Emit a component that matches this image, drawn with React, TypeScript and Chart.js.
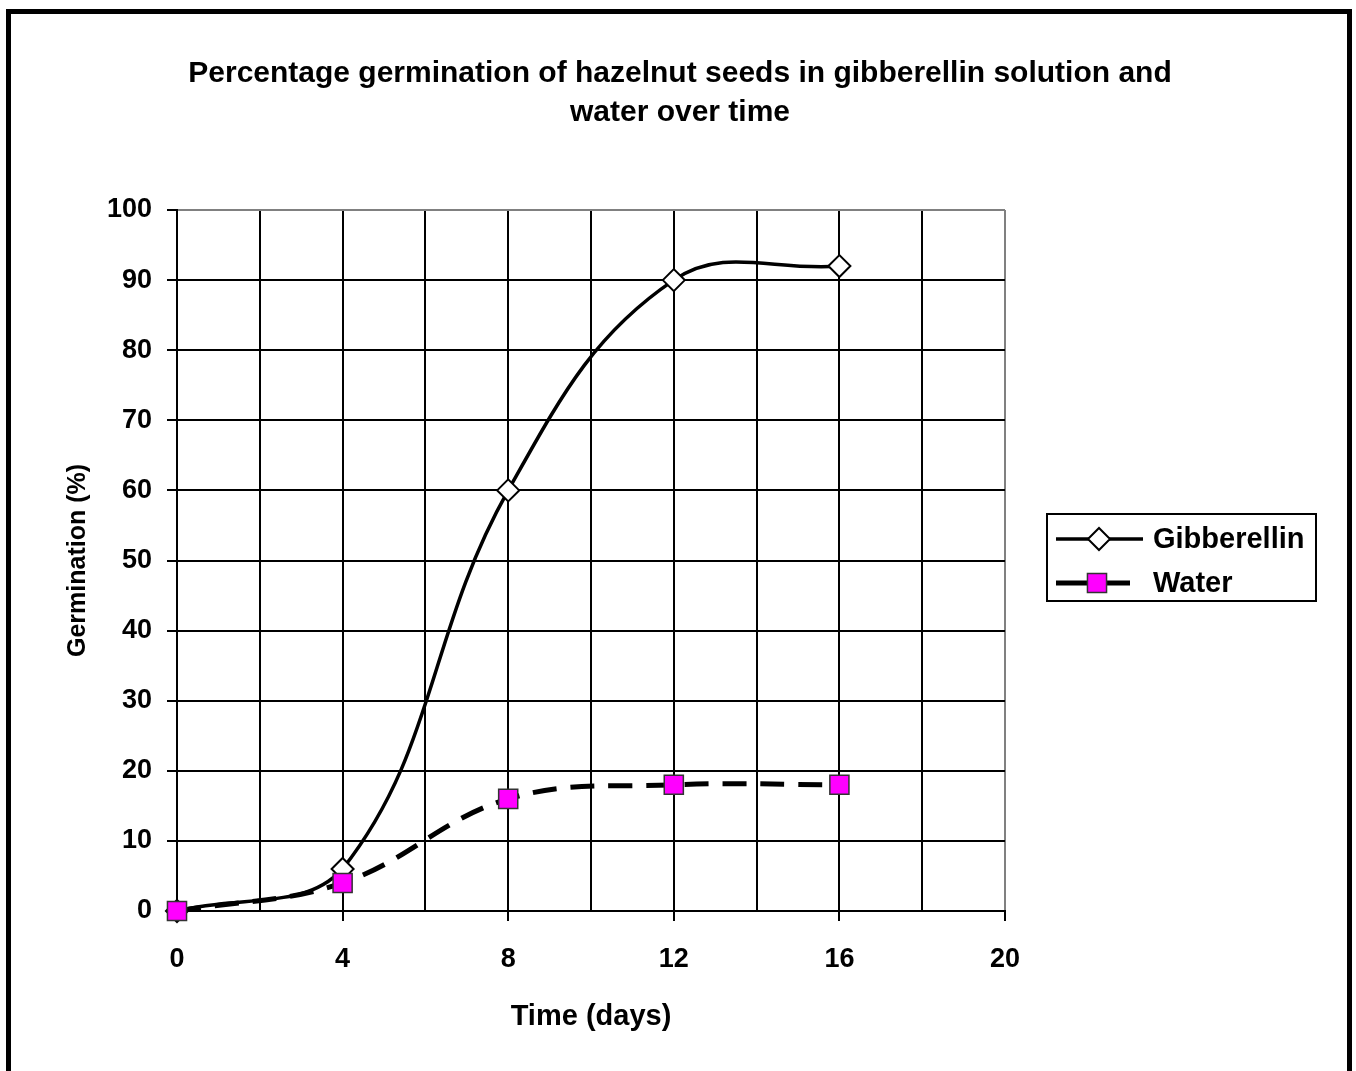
import React, { useEffect, useRef } from "react";
import { Chart, registerables } from "chart.js";

Chart.register(...registerables);

const titleLines = [
  "Percentage germination of hazelnut seeds in gibberellin solution and",
  "water over time",
];
const xAxisTitle = "Time (days)";
const yAxisTitle = "Germination (%)";
const days = [0, 4, 8, 12, 16];
const gibberellin = [0, 6, 60, 90, 92];
const water = [0, 4, 16, 18, 18];
const seriesNames = ["Gibberellin", "Water"];

const FONT = "'Liberation Sans', Arial, sans-serif";

function drawMarker(ctx: CanvasRenderingContext2D, style: string, x: number, y: number, r: number) {
  ctx.beginPath();
  if (style === "rectRot") {
    ctx.moveTo(x - r, y);
    ctx.lineTo(x, y - r);
    ctx.lineTo(x + r, y);
    ctx.lineTo(x, y + r);
    ctx.closePath();
  } else {
    const s = Math.SQRT1_2 * r;
    ctx.rect(x - s, y - s, 2 * s, 2 * s);
  }
  ctx.fill();
  ctx.stroke();
}

const framePlugin = {
  id: "frameTitleLegend",
  beforeDraw(chart: any) {
    const ctx = chart.ctx;
    ctx.save();
    ctx.fillStyle = "#ffffff";
    ctx.fillRect(0, 0, chart.width, chart.height);
    ctx.strokeStyle = "#000000";
    ctx.lineWidth = 5;
    ctx.strokeRect(8.5, 11.5, 1341, 1100);
    ctx.restore();
  },
  afterDraw(chart: any) {
    const ctx = chart.ctx;
    ctx.save();
    // title
    ctx.fillStyle = "#000000";
    ctx.font = `bold 30px ${FONT}`;
    ctx.textAlign = "center";
    ctx.textBaseline = "middle";
    titleLines.forEach((t, i) => ctx.fillText(t, 680, 74 + i * 39));

    // legend
    ctx.lineWidth = 2;
    ctx.strokeStyle = "#000000";
    ctx.strokeRect(1047, 514, 269, 87);
    const ds = chart.data.datasets;
    const rows = [539, 583];
    ds.forEach((d: any, i: number) => {
      const y = rows[i];
      ctx.save();
      ctx.strokeStyle = d.borderColor;
      ctx.lineWidth = d.borderWidth;
      ctx.setLineDash([]);
      ctx.beginPath();
      ctx.moveTo(1056, y);
      ctx.lineTo(i === 0 ? 1143 : 1130, y);
      ctx.stroke();
      ctx.fillStyle = d.pointBackgroundColor;
      ctx.strokeStyle = d.pointBorderColor;
      ctx.lineWidth = d.pointBorderWidth;
      drawMarker(ctx, d.pointStyle, i === 0 ? 1099 : 1097, y, d.pointRadius);
      ctx.restore();
      ctx.fillStyle = "#000000";
      ctx.font = `bold 29px ${FONT}`;
      ctx.textAlign = "left";
      ctx.textBaseline = "middle";
      ctx.fillText(d.label, 1153, y + 1);
    });
    ctx.restore();
  },
};

export default function App() {
  const ref = useRef<HTMLCanvasElement | null>(null);
  useEffect(() => {
    if (!ref.current) return;
    const chart = new Chart(ref.current, {
      type: "line",
      data: {
        datasets: [
          {
            label: seriesNames[0],
            data: days.map((d, i) => ({ x: d, y: gibberellin[i] })),
            borderColor: "#000000",
            borderWidth: 3.5,
            tension: 0.4,
            pointStyle: "rectRot",
            pointRadius: 11,
            pointBackgroundColor: "#ffffff",
            pointBorderColor: "#000000",
            pointBorderWidth: 2,
            clip: false as any,
            order: 1,
          },
          {
            label: seriesNames[1],
            data: days.map((d, i) => ({ x: d, y: water[i] })),
            borderColor: "#000000",
            borderWidth: 5,
            borderDash: [24, 14],
            tension: 0.38,
            pointStyle: "rect",
            pointRadius: 13.5,
            pointBackgroundColor: "#ff00ff",
            pointBorderColor: "#333333",
            pointBorderWidth: 1.5,
            clip: false as any,
            order: 0,
          },
        ],
      },
      options: {
        animation: false,
        responsive: false,
        devicePixelRatio: 1,
        layout: { padding: { left: 0, top: 210, right: 351, bottom: 0 } },
        plugins: {
          legend: { display: false },
          title: { display: false },
          tooltip: { enabled: false },
        },
        scales: {
          x: {
            type: "linear",
            min: 0,
            max: 20,
            afterFit: (s: any) => {
              s.height = 160;
            },
            ticks: {
              stepSize: 2,
              autoSkip: false,
              maxRotation: 0,
              padding: 22,
              color: "#000000",
              font: { family: FONT, size: 27, weight: "bold" },
              callback: (v: any) => (Number(v) % 4 === 0 ? String(v) : ""),
            },
            grid: {
              color: (c: any) => (c.tick && c.tick.value === 20 ? "#808080" : "#000000"),
              tickColor: (c: any) =>
                c.tick && c.tick.value % 4 === 0 ? "#000000" : "rgba(0,0,0,0)",
              lineWidth: 2,
              tickLength: 10,
            },
            border: { display: true, color: "#000000", width: 2 },
            title: {
              display: true,
              text: xAxisTitle,
              color: "#000000",
              font: { family: FONT, size: 29, weight: "bold" },
              padding: { top: 0, bottom: 37 },
            },
          },
          y: {
            min: 0,
            max: 100,
            afterFit: (s: any) => {
              s.width = 177;
            },
            ticks: {
              stepSize: 10,
              padding: 15,
              color: "#000000",
              font: { family: FONT, size: 27, weight: "bold" },
            },
            grid: {
              color: (c: any) => (c.tick && c.tick.value === 100 ? "#808080" : "#000000"),
              tickColor: "#000000",
              lineWidth: 2,
              tickLength: 10,
            },
            border: { display: true, color: "#000000", width: 2 },
            title: {
              display: true,
              text: yAxisTitle,
              color: "#000000",
              font: { family: FONT, size: 25, weight: "bold" },
              padding: { top: 63, bottom: 0 },
            },
          },
        },
      },
      plugins: [framePlugin],
    } as any);
    return () => chart.destroy();
  }, []);
  return (
    <div style={{ position: "absolute", left: 0, top: 0, width: 1356, height: 1071 }}>
      <canvas ref={ref} width={1356} height={1071} style={{ width: 1356, height: 1071, display: "block" }} />
    </div>
  );
}
